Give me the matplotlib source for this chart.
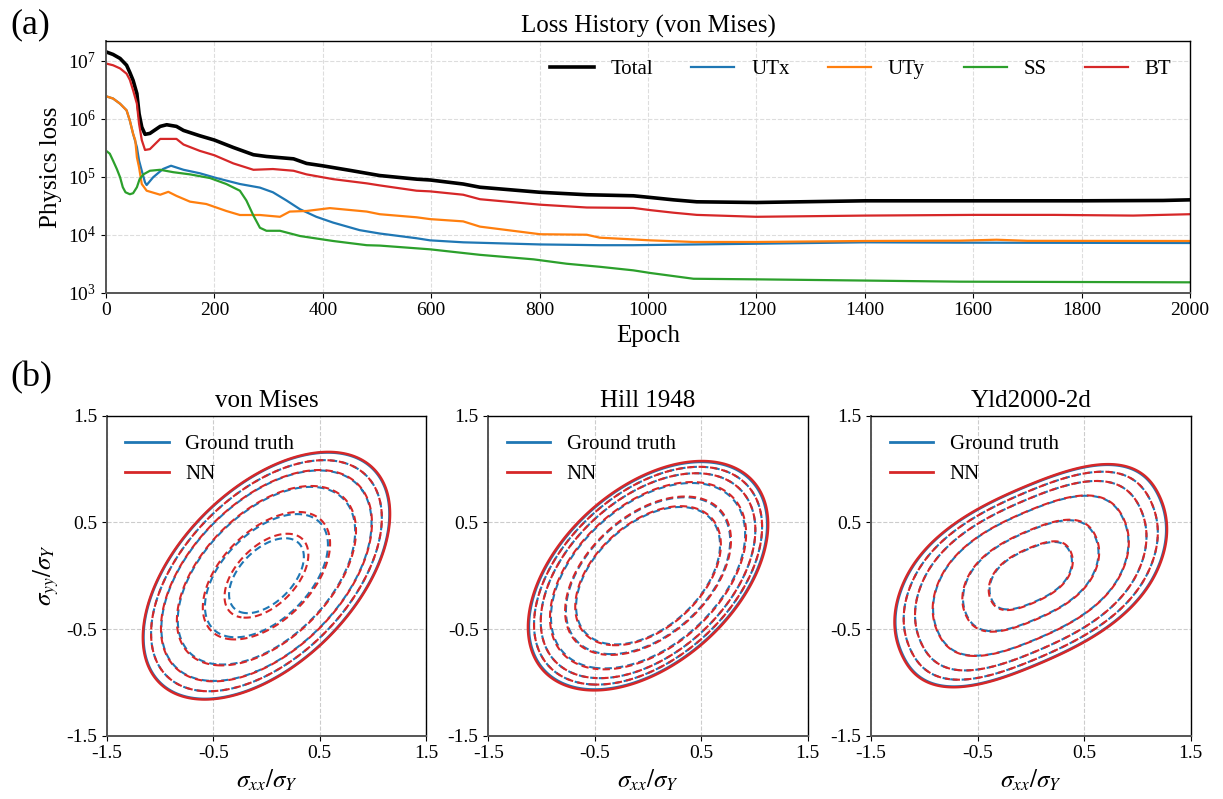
import numpy as np
import matplotlib
matplotlib.use("Agg")
import matplotlib.pyplot as plt
from matplotlib.lines import Line2D
from matplotlib.ticker import LogLocator, NullLocator

plt.rcParams.update({
    "font.family": "serif",
    "font.serif": ["Liberation Serif", "DejaVu Serif"],
    "mathtext.fontset": "stix",
    "axes.unicode_minus": False,
})

# ---------------- (a) loss history data ----------------
total_ep = [0, 13, 26, 38, 44, 50, 57, 61, 66, 72, 81, 100, 112, 130, 143, 173, 200, 235, 272, 296, 346,
            370, 399, 450, 505, 573, 598, 659, 690, 801, 887, 973, 1004, 1047, 1090, 1200, 1400, 1600,
            1800, 1950, 2000]
total_val = [1.43e7, 1.29e7, 1.10e7, 8.4e6, 6.3e6, 4.6e6, 2.72e6, 1.23e6, 7.2e5, 5.4e5, 5.6e5, 7.4e5,
             7.9e5, 7.4e5, 6.3e5, 5.1e5, 4.3e5, 3.2e5, 2.4e5, 2.24e5, 2.04e5, 1.7e5, 1.55e5, 1.29e5,
             1.05e5, 9.1e4, 8.8e4, 7.5e4, 6.6e4, 5.4e4, 4.9e4, 4.7e4, 4.4e4, 4.0e4, 3.7e4, 3.6e4, 3.85e4,
             3.85e4, 3.85e4, 3.9e4, 4.0e4]

utx_ep = [0, 13, 26, 38, 44, 50, 57, 61, 66, 72, 75, 87, 105, 120, 143, 173, 204, 247, 284, 308, 333,
          358, 388, 419, 468, 505, 573, 598, 659, 801, 911, 973, 1200, 1400, 1576, 2000]
utx_val = [2.45e6, 2.24e6, 1.82e6, 1.4e6, 9.3e5, 5.5e5, 3.24e5, 1.9e5, 1.27e5, 8.0e4, 7.2e4, 9.8e4,
           1.36e5, 1.55e5, 1.32e5, 1.15e5, 9.5e4, 7.5e4, 6.5e4, 5.4e4, 3.9e4, 2.75e4, 2.04e4, 1.62e4,
           1.2e4, 1.05e4, 8.7e3, 8.0e3, 7.4e3, 6.8e3, 6.6e3, 6.6e3, 7.0e3, 7.4e3, 7.3e3, 7.2e3]

uty_ep = [0, 13, 26, 38, 44, 50, 54, 57, 61, 66, 75, 100, 115, 130, 155, 185, 222, 247, 284, 321, 339,
          370, 413, 481, 505, 573, 598, 659, 690, 801, 887, 911, 973, 1004, 1084, 1200, 1400, 1576, 1643,
          1700, 2000]
uty_val = [2.45e6, 2.24e6, 1.82e6, 1.4e6, 9.3e5, 5.5e5, 4.27e5, 2.17e5, 1.45e5, 7.5e4, 5.75e4, 4.9e4,
           5.5e4, 4.68e4, 3.72e4, 3.39e4, 2.57e4, 2.19e4, 2.19e4, 2.04e4, 2.51e4, 2.57e4, 2.88e4, 2.51e4,
           2.26e4, 2.0e4, 1.86e4, 1.70e4, 1.38e4, 1.02e4, 1.0e4, 8.9e3, 8.3e3, 8.0e3, 7.5e3, 7.5e3,
           7.8e3, 7.9e3, 8.2e3, 7.85e3, 7.8e3]

ss_ep = [0, 7, 13, 20, 26, 31, 36, 44, 50, 57, 62, 69, 81, 100, 124, 155, 192, 222, 247, 259, 272, 284,
         296, 321, 358, 419, 481, 505, 598, 690, 789, 850, 911, 973, 1004, 1084, 1200, 1400, 1576, 2000]
ss_val = [2.82e5, 2.5e5, 1.9e5, 1.36e5, 9.8e4, 6.6e4, 5.4e4, 5.0e4, 5.2e4, 6.6e4, 9.1e4, 1.1e5, 1.27e5,
          1.32e5, 1.2e5, 1.1e5, 9.5e4, 7.5e4, 5.75e4, 3.9e4, 2.14e4, 1.32e4, 1.17e4, 1.17e4, 9.5e3,
          7.8e3, 6.6e3, 6.5e3, 5.6e3, 4.5e3, 3.76e3, 3.16e3, 2.8e3, 2.43e3, 2.19e3, 1.74e3, 1.7e3,
          1.62e3, 1.55e3, 1.51e3]

bt_ep = [0, 13, 26, 38, 44, 50, 57, 61, 66, 72, 81, 100, 130, 143, 173, 200, 235, 272, 308, 346, 370,
         419, 481, 505, 573, 598, 659, 690, 801, 887, 973, 1004, 1047, 1090, 1200, 1400, 1600, 1750,
         1895, 2000]
bt_val = [9.0e6, 8.4e6, 7.4e6, 6.0e6, 4.7e6, 3.1e6, 1.82e6, 8.2e5, 4.3e5, 2.9e5, 3.0e5, 4.5e5, 4.5e5,
          3.6e5, 2.8e5, 2.35e5, 1.7e5, 1.32e5, 1.36e5, 1.27e5, 1.1e5, 9.1e4, 7.7e4, 7.1e4, 5.75e4,
          5.6e4, 4.9e4, 4.1e4, 3.3e4, 2.95e4, 2.9e4, 2.66e4, 2.4e4, 2.2e4, 2.04e4, 2.14e4, 2.2e4,
          2.2e4, 2.14e4, 2.26e4]

loss_labels = ["Total", "UTx", "UTy", "SS", "BT"]
loss_colors = ["black", "#1f77b4", "#ff7f0e", "#2ca02c", "#d62728"]
loss_widths = [2.6, 1.6, 1.6, 1.6, 1.6]
epoch_ticks = list(range(0, 2001, 200))

# ---------------- (b) yield-surface data ----------------
panel_titles = ["von Mises", "Hill 1948", "Yld2000-2d"]
shear_levels = [0.0, 0.2, 0.3, 0.4, 0.5, 0.55]          # sigma_xy / sigma_Y of each contour
stress_ticks = [-1.5, -0.5, 0.5, 1.5]
stress_ticklabels = ["-1.5", "-0.5", "0.5", "1.5"]
hill_coef = [1.0, 0.47, 1.10]                          # a x^2 - 2c xy + b y^2
yld_coef = [[0.7762, -1.2385], [0.9363, 0.0731], [-0.0994, 1.0957]]   # linear transforms
yld_exponent = 3.15
shear_weight = [3.0, 2.1, 3.0]
nn_scale = [[1.005, 1.0, 1.004, 1.01, 1.035, 1.12],
            [1.008, 1.0, 1.0, 1.01, 1.01, 1.012],
            [1.006, 1.0, 1.0, 1.004, 1.01, 1.02]]


def phi_yld(x, y, L, a):
    return sum(np.abs(L[i][0] * x + L[i][1] * y) ** a for i in range(3))


# ---------------- figure ----------------
W, H = 1223, 799
fig = plt.figure(figsize=(W / 100, H / 100), dpi=100)


def style_spines(ax):
    for s in ["left", "bottom"]:
        ax.spines[s].set_color("#555555")
        ax.spines[s].set_linewidth(1.4)
    for s in ["top", "right"]:
        ax.spines[s].set_color("black")
        ax.spines[s].set_linewidth(1.0)


ax = fig.add_axes([106 / W, 1 - 292.7 / H, 1084 / W, 251.7 / H])
series = [(total_ep, total_val), (utx_ep, utx_val), (uty_ep, uty_val), (ss_ep, ss_val), (bt_ep, bt_val)]
for (ep, val), lab, col, lw in zip(series, loss_labels, loss_colors, loss_widths):
    ax.plot(ep, val, color=col, lw=lw, label=lab)
ax.set_yscale("log")
ax.set_xlim(0, 2000)
ax.set_ylim(1e3, 2.2e7)
ax.set_xticks(epoch_ticks)
ax.yaxis.set_major_locator(LogLocator(base=10, numticks=12))
ax.yaxis.set_minor_locator(NullLocator())
ax.grid(True, which="major", ls="--", color="#dddddd", lw=0.8)
ax.tick_params(labelsize=14)
ax.set_xlabel("Epoch", fontsize=18)
ax.set_ylabel("Physics loss", fontsize=18)
ax.set_title("Loss History (von Mises)", fontsize=18)
ax.legend(loc="upper right", ncol=5, frameon=False, fontsize=15, handlelength=2.07,
          handletextpad=0.8, columnspacing=1.85, bbox_to_anchor=(1.0, 1.0))
style_spines(ax)

xs = np.linspace(-1.5, 1.5, 601)
X, Y = np.meshgrid(xs, xs)
G_list = [np.sqrt(X ** 2 - X * Y + Y ** 2),
          np.sqrt(hill_coef[0] * X ** 2 - 2 * hill_coef[1] * X * Y + hill_coef[2] * Y ** 2),
          (phi_yld(X, Y, yld_coef, yld_exponent) / 2.0) ** (1.0 / yld_exponent)]

lefts = [106.7, 488.3, 871.0]
for k in range(3):
    bx = fig.add_axes([lefts[k] / W, 1 - 735.7 / H, 319.5 / W, 320 / H])
    G = G_list[k]
    for color, scales, phase in (("#1f77b4", [1.0] * len(shear_levels), 0.0),
                                 ("#d62728", nn_scale[k], 1.2)):
        for t, s in zip(shear_levels, scales):
            lev = np.sqrt(1 - shear_weight[k] * t ** 2) * s
            ls = "solid" if t == 0 else (phase, (3.5, 2.0))
            bx.contour(X, Y, G, levels=[lev], colors=[color], linestyles=[ls],
                       linewidths=[1.8 if t == 0 else 1.5])
    bx.set_xlim(-1.5, 1.5); bx.set_ylim(-1.5, 1.5)
    bx.set_xticks(stress_ticks); bx.set_xticklabels(stress_ticklabels)
    bx.set_yticks(stress_ticks); bx.set_yticklabels(stress_ticklabels)
    bx.grid(True, ls="--", color="#cccccc", lw=0.8)
    bx.tick_params(labelsize=14)
    bx.set_title(panel_titles[k], fontsize=18)
    bx.set_xlabel(r"$\sigma_{xx}/\sigma_Y$", fontsize=18)
    if k == 0:
        bx.set_ylabel(r"$\sigma_{yy}/\sigma_Y$", fontsize=18)
    handles = [Line2D([], [], color="#1f77b4", lw=2), Line2D([], [], color="#d62728", lw=2)]
    bx.legend(handles, ["Ground truth", "NN"], loc="upper left", frameon=False, fontsize=15,
              handlelength=2.07, handletextpad=0.8)
    style_spines(bx)

fig.text(10 / W, 1 - 25 / H, "(a)", fontsize=26, va="center", ha="left")
fig.text(10 / W, 1 - 378 / H, "(b)", fontsize=26, va="center", ha="left")

fig.savefig("out.png", dpi=100)
